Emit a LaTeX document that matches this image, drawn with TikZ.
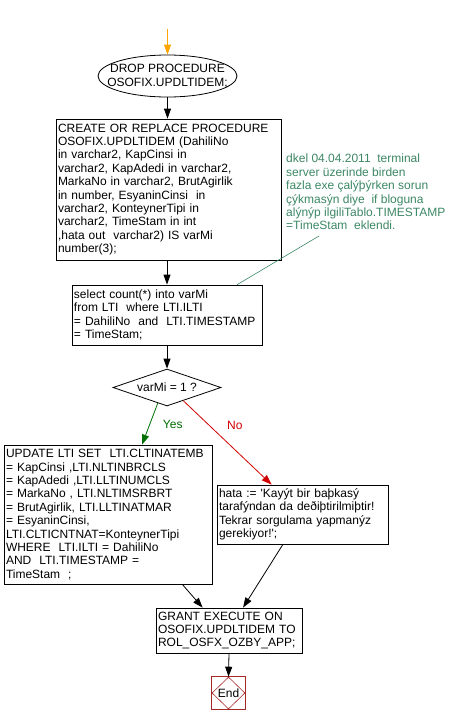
\documentclass[tikz,border=0pt]{standalone}
\usepackage{fontspec}
\newfontfamily\chartfont{Liberation Sans}
\usetikzlibrary{shapes.geometric}
\usetikzlibrary{arrows.meta}
\usetikzlibrary{calc}
\definecolor{notegreen}{RGB}{60,135,100}
\definecolor{yesgreen}{RGB}{0,110,0}
\definecolor{nored}{RGB}{210,0,0}
\definecolor{endred}{RGB}{165,40,40}
\definecolor{startorange}{RGB}{255,165,0}

\begin{document}
\begin{tikzpicture}[x=1pt, y=-1pt,
        every node/.style={font=\chartfont\fontsize{12}{13.4}\selectfont},
        box/.style={draw, rectangle, align=left, inner xsep=2pt, inner ysep=0pt, line width=0.8pt},
        flow/.style={line width=0.8pt, -{Triangle[length=10pt, width=7pt]}},
        notetext/.style={notegreen, align=left, inner sep=0pt, anchor=north west}]
        
        \useasboundingbox (0,0) rectangle (456,724);
        
        \coordinate (start) at (167.5,29);
        \node[draw, ellipse, minimum width=139pt, minimum height=42pt, inner sep=0pt, line width=0.8pt] (drop) at (167.5,76) {};
        \node[align=center, inner sep=0pt] (dropText) at (drop) {DROP PROCEDURE\\OSOFIX.UPDLTIDEM;};
        \node[box, text width=221pt, minimum height=141pt] (create) at (168.5,189.5) {CREATE OR REPLACE PROCEDURE\\OSOFIX.UPDLTIDEM (DahiliNo\\in varchar2, KapCinsi in\\varchar2, KapAdedi in varchar2,\\MarkaNo in varchar2, BrutAgirlik\\in number, EsyaninCinsi~ in\\varchar2, KonteynerTipi in\\varchar2, TimeStam in int\\,hata out~ varchar2) IS varMi\\number(3);};
        \node[notetext] (note) at (286,154) {dkel 04.04.2011~ terminal\\server üzerinde birden\\fazla exe çalýþýrken sorun\\çýkmasýn diye~ if bloguna\\alýnýp ilgiliTablo.TIMESTAMP\\=TimeStam~ eklendi.};
        \coordinate (noteTail) at (319,236);
        \node[box, text width=186pt, minimum height=60pt] (select) at (167,315) {select count(*) into varMi\\from LTI~ where LTI.ILTI\\= DahiliNo~ and~ LTI.TIMESTAMP\\= TimeStam;};
        \node[draw, diamond, aspect=2.9, minimum width=108pt, minimum height=37pt, inner sep=0pt, line width=0.8pt] (cond) at (167,387.5) {varMi = 1 ?};
        \node[box, text width=204pt, minimum height=139pt] (update) at (108,514.5) {UPDATE LTI SET~ LTI.CLTINATEMB\\= KapCinsi ,LTI.NLTINBRCLS\\= KapAdedi ,LTI.LLTINUMCLS\\= MarkaNo , LTI.NLTIMSRBRT\\= BrutAgirlik, LTI.LLTINATMAR\\= EsyaninCinsi,\\LTI.CLTICNTNAT=KonteynerTipi\\WHERE~ LTI.ILTI = DahiliNo\\AND~ LTI.TIMESTAMP =\\TimeStam~ ;};
        \node[box, text width=167pt, minimum height=59pt] (hata) at (302.5,514.5) {hata := 'Kayýt bir baþkasý\\tarafýndan da deðiþtirilmiþtir!\\Tekrar sorgulama yapmanýz\\gerekiyor!';};
        \node[box, text width=142pt, minimum height=45pt] (grant) at (229,630.5) {GRANT EXECUTE ON\\OSOFIX.UPDLTIDEM TO\\ROL\_OSFX\_OZBY\_APP;};
        \node[draw=endred, diamond, minimum width=33pt, minimum height=32pt, inner sep=0pt, line width=0.6pt] (end) at (228.5,693) {End};
        \draw[endred, line width=0.8pt] (end.west |- end.north) rectangle (end.east |- end.south);
        
        \draw[flow, startorange] (start) -- (drop.north);
        \draw[flow] (drop.south) -- (drop.south |- create.north);
        \draw[flow] (select.north |- create.south) -- (select.north);
        \draw[notegreen, line width=0.6pt] (noteTail) -- ($(select.north west)!0.868!(select.north east)$);
        \draw[flow] (select.south) -- (cond.north);
        \draw[flow, yesgreen] ($(cond.south)!0.17!(cond.west)$) -- node[pos=0.52, anchor=west, xshift=13pt, inner sep=0pt] (yesLbl) {Yes} ($(update.north west)!0.663!(update.north east)$);
        \draw[flow, nored] ($(cond.south)!0.30!(cond.east)$) -- node[pos=0.3, anchor=west, xshift=17pt, inner sep=0pt] (noLbl) {No} ($(hata.north west)!0.32!(hata.north east)$);
        \draw[flow] ($(update.south west)!0.856!(update.south east)$) -- ($(grant.north west)!0.32!(grant.north east)$);
        \draw[flow] ($(hata.south west)!0.386!(hata.south east)$) -- ($(grant.north west)!0.596!(grant.north east)$);
        \draw[flow] (grant.south) -- (end.north);
        
        \end{tikzpicture}
\end{document}
